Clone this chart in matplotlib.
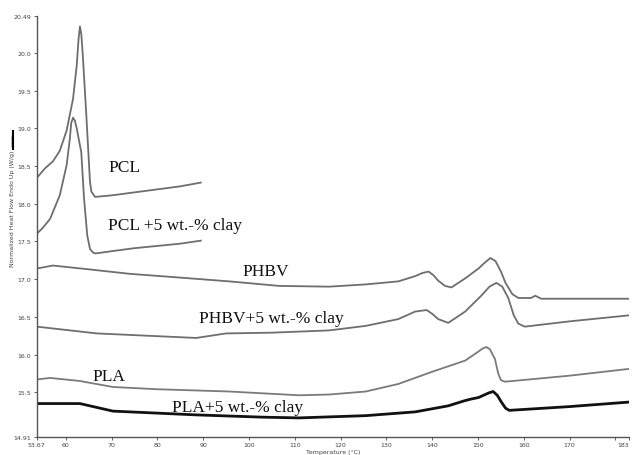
import numpy as np
import matplotlib
matplotlib.use('Agg')
import matplotlib.pyplot as plt
from matplotlib.lines import Line2D

# DSC traces (temperature in C, heat flow in W/g)
pcl_t = [53.67, 55.5, 57.2, 58.7, 60.2, 61.6, 62.4, 62.8, 63.1, 63.4, 63.7, 64.5, 64.9, 65.3, 65.6, 66.4, 70, 75, 80, 85, 89.5]
pcl_h = [18.34, 18.47, 18.56, 18.70, 18.97, 19.39, 19.83, 20.18, 20.35, 20.25, 20.00, 19.17, 18.73, 18.29, 18.16, 18.09,
         18.11, 18.15, 18.19, 18.23, 18.28]

pcl_clay_t = [53.67, 55.0, 56.6, 58.7, 60.2, 60.9, 61.2, 61.6, 62.0, 62.4, 63.4, 64.0, 64.7, 65.3, 66.0, 66.5,
              70, 75, 80, 85, 89.5]
pcl_clay_h = [17.60, 17.68, 17.80, 18.11, 18.51, 18.86, 19.07, 19.14, 19.10, 19.00, 18.68, 18.07, 17.58, 17.40, 17.35, 17.34,
              17.37, 17.41, 17.44, 17.47, 17.51]

phbv_t = [53.67, 57.2, 65, 74, 85, 95.7, 106.6, 117.5, 125.5, 132.6, 136.3, 137.8, 139.2, 140.3, 141.3, 142.8, 144.2,
          147.2, 150.1, 151.5, 152.7, 153.8, 155, 156, 157.5, 158.8, 161.6, 162.5, 163.8, 183]
phbv_h = [17.14, 17.18, 17.13, 17.07, 17.02, 16.97, 16.91, 16.90, 16.93, 16.97, 17.04, 17.08, 17.10, 17.05, 16.98, 16.91,
          16.89, 17.01, 17.14, 17.22, 17.28, 17.24, 17.10, 16.95, 16.80, 16.75, 16.75, 16.78, 16.74, 16.74]

phbv_clay_t = [53.67, 66.8, 88.5, 95, 105, 117.5, 125.5, 132.6, 136.3, 137.5, 138.8, 140.0, 141.3, 143.5, 147.2, 150.7,
               152.5, 154.0, 155.3, 156.6, 157.8, 158.8, 160.2, 170, 183]
phbv_clay_h = [16.37, 16.28, 16.22, 16.28, 16.29, 16.32, 16.38, 16.47, 16.57, 16.58, 16.59, 16.54, 16.47, 16.42, 16.57, 16.78,
               16.90, 16.95, 16.90, 16.75, 16.52, 16.41, 16.37, 16.44, 16.52]

pla_t = [53.67, 56.6, 63, 70.3, 80, 95.7, 110.9, 117.5, 125.5, 132.6, 139.9, 147.2, 150.1, 151.0, 151.8, 152.6, 153.7,
         154.4, 155.0, 155.9, 170, 183]
pla_h = [15.67, 15.69, 15.65, 15.57, 15.54, 15.51, 15.46, 15.47, 15.51, 15.61, 15.77, 15.92, 16.04, 16.08, 16.10, 16.07, 15.94,
         15.75, 15.66, 15.64, 15.72, 15.81]

pla_clay_t = [53.67, 63.1, 70.3, 88.5, 102.9, 110.9, 125.5, 136.3, 143.5, 147.2, 148.5, 150.1, 152.3, 153.3, 154.2,
              155.1, 156.0, 156.8, 170, 183]
pla_clay_h = [15.35, 15.35, 15.25, 15.20, 15.17, 15.16, 15.19, 15.24, 15.32, 15.39, 15.41, 15.43, 15.49, 15.51, 15.46,
              15.37, 15.29, 15.26, 15.31, 15.37]

labels = ['PCL', 'PCL +5 wt.-% clay', 'PHBV', 'PHBV+5 wt.-% clay', 'PLA', 'PLA+5 wt.-% clay']
label_x = [69.3, 69.3, 98.5, 89.2, 65.9, 83.3]
label_y = [18.49, 17.72, 17.11, 16.49, 15.71, 15.31]

x_ticks = [53.67, 60, 70, 80, 90, 100, 110, 120, 130, 140, 150, 160, 170, 180, 183]
x_ticklabels = ['53.67', '60', '70', '80', '90', '100', '110', '120', '130', '140', '150', '160', '170', '', '183']
y_ticks = [14.91, 15.5, 16.0, 16.5, 17.0, 17.5, 18.0, 18.5, 19.0, 19.5, 20.0, 20.49]
y_ticklabels = ['14.91', '15.5', '16.0', '16.5', '17.0', '17.5', '18.0', '18.5', '19.0', '19.5', '20.0', '20.49']

fig = plt.figure(figsize=(6.33, 4.56), dpi=100)
ax = fig.add_axes([0.058, 0.04, 0.936, 0.923])

grey = '#6e6e6e'
ax.plot(pcl_t, pcl_h, color=grey, lw=1.3)
ax.plot(pcl_clay_t, pcl_clay_h, color=grey, lw=1.3)
ax.plot(phbv_t, phbv_h, color=grey, lw=1.3)
ax.plot(phbv_clay_t, phbv_clay_h, color=grey, lw=1.3)
ax.plot(pla_t, pla_h, color='#7a7a7a', lw=1.3)
ax.plot(pla_clay_t, pla_clay_h, color='#111111', lw=2.0)

for txt, lx, ly in zip(labels, label_x, label_y):
    ax.text(lx, ly, txt, fontsize=12.5, family='Liberation Serif', va='center', ha='left', color='#111111')

ax.set_xlim(53.67, 183)
ax.set_ylim(14.91, 20.49)
ax.set_xticks(x_ticks)
ax.set_xticklabels(x_ticklabels)
ax.get_xticklabels()[-1].set_horizontalalignment('right')
ax.set_yticks(y_ticks)
ax.set_yticklabels(y_ticklabels)
ax.tick_params(labelsize=4.5, length=2, width=0.6, colors='#444444', pad=2)
for s in ['top', 'right']:
    ax.spines[s].set_visible(False)
for s in ['left', 'bottom']:
    ax.spines[s].set_color('#555555')
    ax.spines[s].set_linewidth(1.0)

ax.set_xlabel('Temperature (\u00b0C)', fontsize=4.5, color='#444444', labelpad=1)
fig.text(0.019, 0.56, 'Normalized Heat Flow Endo Up (W/g)  \u2014\u2014', rotation=90,
         fontsize=4.5, color='#444444', ha='center', va='center')
fig.add_artist(Line2D([0.021, 0.021], [0.67, 0.71], color='black', lw=1.5))

fig.savefig('out.png', dpi=100)
